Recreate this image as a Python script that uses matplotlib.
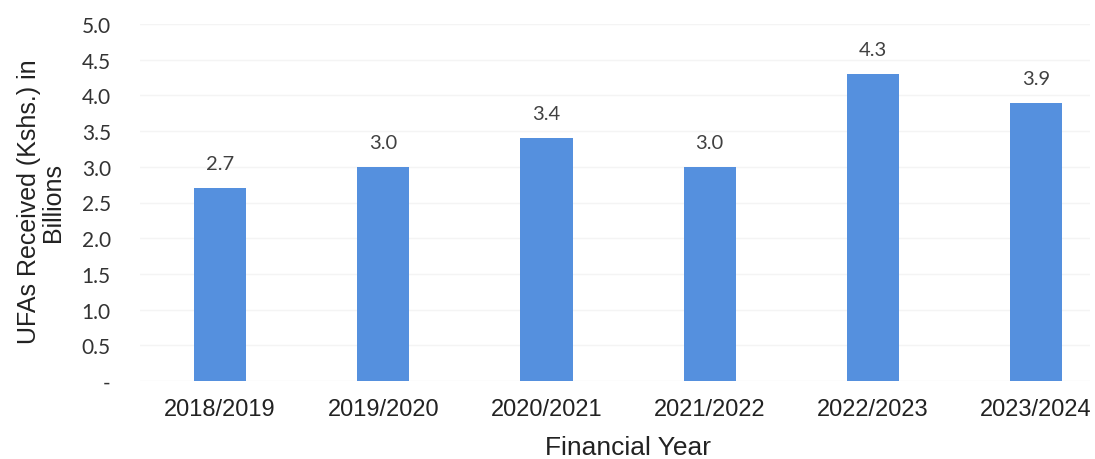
import matplotlib
matplotlib.use("Agg")
import matplotlib.pyplot as plt

years = ["2018/2019", "2019/2020", "2020/2021", "2021/2022", "2022/2023", "2023/2024"]
ufas = [2.7, 3.0, 3.4, 3.0, 4.3, 3.9]
yticks = [0, 0.5, 1.0, 1.5, 2.0, 2.5, 3.0, 3.5, 4.0, 4.5, 5.0]
ytick_labels = ["-", "0.5", "1.0", "1.5", "2.0", "2.5", "3.0", "3.5", "4.0", "4.5", "5.0"]

W, H = 1095, 460


def main():
    fig = plt.figure(figsize=(W / 100, H / 100), dpi=100)
    # axes placed in pixel terms: left 140, right 1090, bottom 382, top 25
    ax = fig.add_axes([140 / W, 1 - 382 / H, 950 / W, (382 - 25) / H])

    x_pos = list(range(len(years)))
    ax.bar(x_pos, ufas, width=0.32, color="#5590de", zorder=2)

    for x, v in zip(x_pos, ufas):
        ax.annotate("{:.1f}".format(v), (x, v), xytext=(0, 17.5), textcoords="offset points",
                    ha="center", va="center", fontsize=14.5, color="#404040", family="Lato")

    ax.set_xlim(-0.49, 5.33)
    ax.set_ylim(0, 5.0)
    ax.set_yticks(yticks)
    ax.set_yticklabels(ytick_labels, family="Lato", fontsize=15, color="#333333")
    ax.set_xticks(x_pos)
    ax.set_xticklabels(years, family="Liberation Sans", fontsize=17, color="#222222")
    ax.tick_params(axis="both", length=0)
    ax.tick_params(axis="y", pad=21)
    ax.tick_params(axis="x", pad=12)

    ax.yaxis.grid(True, color="#f4f4f4", linewidth=1, zorder=0)
    for s in ax.spines.values():
        s.set_visible(False)

    fig.text(628 / W, 1 - 448 / H, "Financial Year", family="Liberation Sans", fontsize=19,
             color="#222222", ha="center", va="center")
    fig.text(41 / W, 1 - 202 / H, "UFAs Received (Kshs.) in\nBillions", family="Liberation Sans",
             fontsize=18, color="#222222", ha="center", va="center", rotation=90,
             multialignment="center", linespacing=1.0)

    fig.savefig("out.png", dpi=100)


if __name__ == "__main__":
    main()
